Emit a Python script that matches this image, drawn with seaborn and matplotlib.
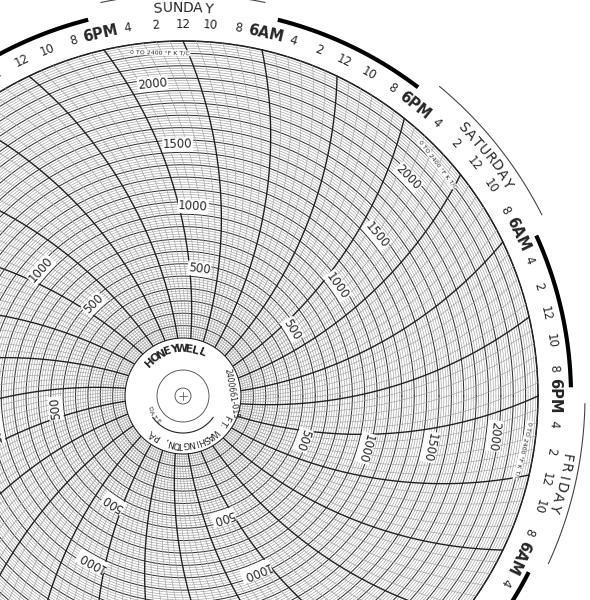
import numpy as np
import matplotlib
matplotlib.use("Agg")
import matplotlib.pyplot as plt
import seaborn as sns

sns.set_style("white")

# chart data
day_names = ["SATURDAY", "SUNDAY", "MONDAY", "TUESDAY", "WEDNESDAY", "THURSDAY", "FRIDAY"]
day_noon_hours = [-12, 12, 36, 60, 84, 108, -36]   # hours from Sunday 00:00
hour_ticks = [0, 2, 4, 6, 8, 10, 12, 14, 16, 18, 20, 22]
hour_texts = ["12", "2", "4", "6AM", "8", "10", "12", "2", "4", "6PM", "8", "10"]
scale_values = [500, 1000, 1500, 2000]
scale_max = 2400

R_HUB, R_OUT, R_ARC = 58, 355, 430


def val_to_r(v):
    return R_HUB + (R_OUT - R_HUB) * v / scale_max


def time_angle(t):
    return 90 + (t - 12) * 360 / 168


def arc_pts(t, r):
    th_c = time_angle(t) + np.degrees(np.arccos(R_OUT / (2 * R_ARC)))
    a = np.radians(th_c - np.degrees(np.arccos(r / (2 * R_ARC))))
    return r * np.cos(a), r * np.sin(a), np.degrees(a)


fig = plt.figure(figsize=(5.9, 6), dpi=100)
ax = fig.add_axes([0, 0, 1, 1])
ax.set_xlim(-183, 407)
ax.set_ylim(-204, 396)
ax.set_aspect("equal")
ax.axis("off")

th = np.linspace(0, 2 * np.pi, 720)
# concentric value circles
for v in range(20, scale_max + 1, 20):
    r = val_to_r(v)
    major = v % 100 == 0
    ax.plot(r * np.cos(th), r * np.sin(th), color="#333" if major else "#a0a0a0",
            lw=0.75 if major else 0.45)
sns.lineplot(x=R_OUT * np.cos(th), y=R_OUT * np.sin(th), sort=False, estimator=None,
             ax=ax, color="#222", lw=1.1)

# time arcs: every hour, dark every 6 hours
rr = np.linspace(R_HUB, R_OUT, 120)
for t in range(-72, 96):
    x, y, _ = arc_pts(t, rr)
    major = t % 6 == 0
    ax.plot(x, y, color="#222" if major else "#a0a0a0", lw=1.0 if major else 0.45)

# hour labels
for noon in day_noon_hours:
    base = noon - 12
    for h, txt in zip(hour_ticks, hour_texts):
        a = time_angle(base + h)
        ar = np.radians(a)
        big = txt.endswith("M")
        ax.text(372 * np.cos(ar), 372 * np.sin(ar), txt, rotation=a - 90,
                ha="center", va="center", fontsize=10.5 if big else 8.5,
                fontweight="bold" if big else "normal", rotation_mode="anchor")
    # thick night arc 6PM -> next 6AM, thin day arc
    a1, a2 = np.radians(time_angle(base + 18.6)), np.radians(time_angle(base + 29.4))
    tt = np.linspace(a1, a2, 60)
    ax.plot(388 * np.cos(tt), 388 * np.sin(tt), color="black", lw=3, solid_capstyle="butt")
    a1, a2 = np.radians(time_angle(base + 6.5)), np.radians(time_angle(base + 17.5))
    tt = np.linspace(a1, a2, 60)
    ax.plot(402 * np.cos(tt), 402 * np.sin(tt), color="#444", lw=0.8)
    # day name, curved
    name = day_names[day_noon_hours.index(noon)]
    a0 = time_angle(noon)
    step = 1.5
    for i, ch in enumerate(name):
        a = a0 + (len(name) / 2 - i - 0.5) * step
        ar = np.radians(a)
        ax.text(388 * np.cos(ar), 388 * np.sin(ar), ch, rotation=a - 90,
                ha="center", va="center", fontsize=10, rotation_mode="anchor")
    # scale values along 4PM line
    for v in scale_values:
        x, y, a = arc_pts(base + 16, val_to_r(v) + 8)
        ax.text(x, y, str(v), rotation=a - 90, ha="center", va="center", fontsize=8.5,
                rotation_mode="anchor",
                bbox=dict(facecolor="white", edgecolor="none", pad=0.5))
    x, y, a = arc_pts(base + 16.3, 348)
    ax.text(x, y, "0 TO 2400 °F K T/C", rotation=a - 100, ha="left", va="center",
            fontsize=4.5, rotation_mode="anchor",
            bbox=dict(facecolor="white", edgecolor="none", pad=0.3))

# hub
ax.add_patch(plt.Circle((0, 0), R_HUB, facecolor="white", edgecolor="#222", lw=0.8, zorder=5))
for r in (26, 8):
    ax.add_patch(plt.Circle((0, 0), r, facecolor="none", edgecolor="#444", lw=0.6, zorder=6))
ax.plot([-4, 4], [0, 0], color="#444", lw=0.5, zorder=6)
ax.plot([0, 0], [-4, 4], color="#444", lw=0.5, zorder=6)
tt = np.radians(np.linspace(215, 325, 60))
ax.plot(37 * np.cos(tt), 37 * np.sin(tt), color="#222", lw=0.8, zorder=6)


def curved(text, r, a_mid, step, size, top=True, weight="normal"):
    n = len(text)
    for i, ch in enumerate(text):
        off = (n / 2 - i - 0.5) * step
        a = (a_mid + off) if top else (a_mid - off)
        ar = np.radians(a)
        ax.text(r * np.cos(ar), r * np.sin(ar), ch, rotation=(a - 90) if top else (a + 90),
                ha="center", va="center", fontsize=size, fontweight=weight,
                rotation_mode="anchor", zorder=7)


curved("HONEYWELL", 47, 100, 8.5, 8, weight="bold")
curved("FT. WASHINGTON, PA.", 48, 280, 6, 6.5)
curved("DATE", 36, 213, 8, 4.5, top=False)
ax.text(48, 2, "2400661-015", rotation=-80, ha="center", va="center", fontsize=5.5, zorder=7)

fig.savefig("out.png", dpi=100)
